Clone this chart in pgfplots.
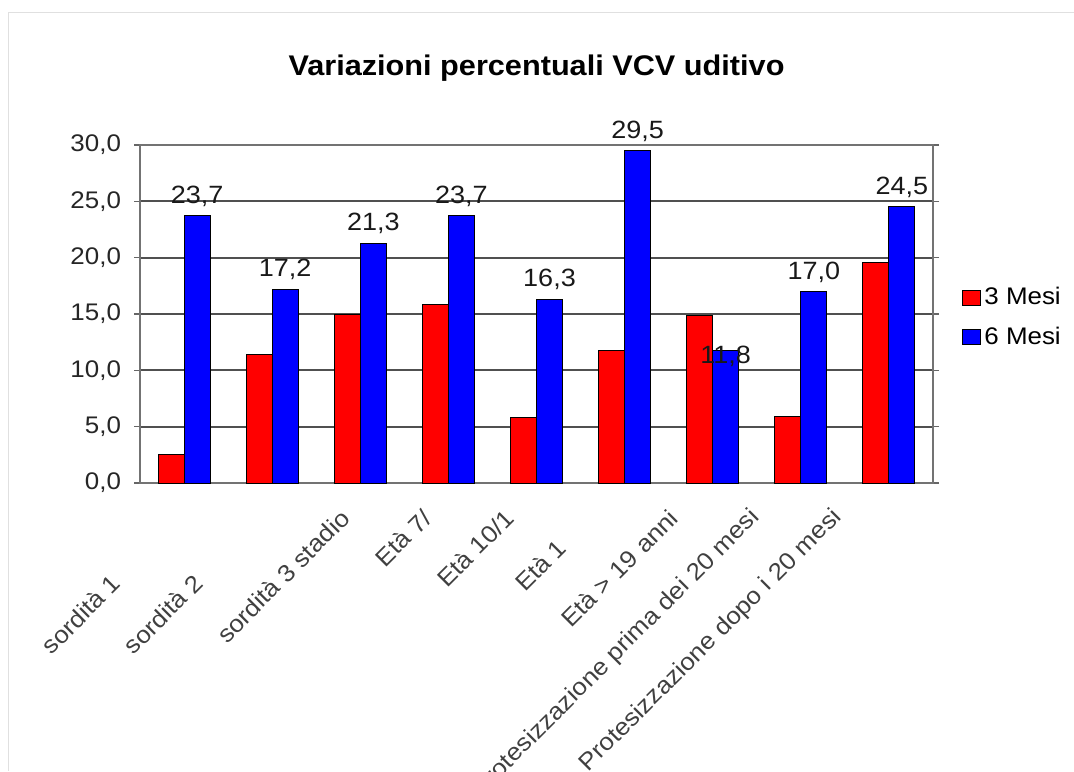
\documentclass[border=0pt]{standalone}
\usepackage{pgfplots}
\usepackage{pgfplotstable}
\pgfplotsset{compat=1.18}
\usepackage{fontspec}
\setmainfont{Liberation Sans}[FakeStretch=1.08]
\definecolor{gridc}{RGB}{80,80,80}
\pgfplotstableread{
x r b dy
0 2.5 23.7 0
1 11.4 17.2 0
2 15.0 21.3 0
3 15.8 23.7 0
4 5.8 16.3 0
5 11.8 29.5 0
6 14.9 11.8 -13
7 5.9 17.0 0
8 19.6 24.5 0
}\data
\begin{document}
\begin{tikzpicture}
\path[use as bounding box] (0,0) rectangle (537pt,385.5pt);
\clip (0,0) rectangle (537pt,385.5pt);
\draw[black!12] (4pt,0) -- (4pt,379.5pt) -- (537pt,379.5pt);
\begin{axis}[
  at={(70pt,144pt)}, anchor=south west,
  scale only axis, width=396.5pt, height=169pt,
  ybar=0pt, bar width=13pt,
  xmin=-0.5, xmax=8.5, ymin=0, ymax=30,
  xtick=data,
  xticklabels={sordità 1\hspace*{46pt},sordità 2\hspace*{46pt},sordità 3 stadio,Età 7/,Età 10/1,Età 1\hspace*{21pt},Età > 19 anni,Protesizzazione prima dei 20 mesi,Protesizzazione dopo i 20 mesi},
  x tick label style={rotate=45, anchor=east, xshift={-6.4pt-2.12pt*\ticknum}, yshift={-7.8pt+2.12pt*\ticknum}, text=black!75, font=\fontsize{12}{14}\selectfont},
  major x tick style={draw=none},
  ytick={0,5,...,30},
  ymajorgrids, grid style={gridc, line width=0.9pt},
  axis line style={black!55, line width=0.8pt},
  major y tick style={black!60, line width=0.6pt},
  tick align=outside, major tick length=3pt,
  yticklabel style={xshift=-3pt, font=\fontsize{12}{14}\selectfont, text=black!85},
  /pgf/number format/.cd, use comma, fixed, fixed zerofill, precision=1, assume math mode=true,
  /pgfplots/.cd,
  title={\textbf{Variazioni percentuali VCV uditivo}},
  title style={at={(0.5,1)}, anchor=center, yshift=32.5pt, font=\fontsize{14.2}{17}\selectfont},
  legend style={at={(1.029,0.49)}, anchor=west, draw=none, fill=none,
    font=\fontsize{12}{14}\selectfont, row sep=6.5pt,
    nodes={inner sep=1.5pt},
    legend cell align=left},
  legend image code/.code={\draw[#1] (0pt,-3.8pt) rectangle (9pt,3.8pt);},
  clip=false,
]
\addplot[fill=red, draw=black, line width=0.5pt] table[x=x, y=r] {\data};
\addlegendentry{3 Mesi}
\addplot[fill=blue, draw=black, line width=0.5pt,
  visualization depends on={\thisrow{dy} \as \dy},
  nodes near coords,
  every node near coord/.append style={font=\fontsize{12.5}{14}\selectfont, black!90, anchor=south, yshift=\dy pt+1pt},
] table[x=x, y=b] {\data};
\addlegendentry{6 Mesi}
\end{axis}
\end{tikzpicture}
\end{document}
